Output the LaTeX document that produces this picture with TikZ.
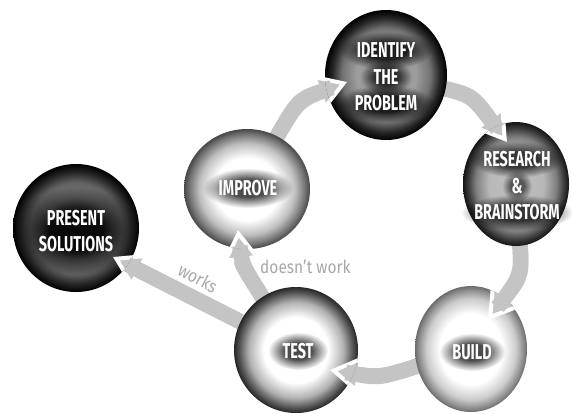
\documentclass[tikz,border=0pt]{standalone}
\usepackage{fontspec}
\usetikzlibrary{arrows.meta,shapes.geometric,fadings}

\newfontfamily\ballfont[FakeStretch=0.67]{Fira Sans}
\newfontfamily\notefont[FakeStretch=0.86]{Fira Sans}

\definecolor{flowgray}{gray}{0.77}
\definecolor{notegray}{gray}{0.66}

% sphere shadings: the path fills the middle 50bp square, so 25bp is the rim
\pgfdeclareradialshading{presentball}{\pgfpointorigin}{color(0bp)=(black!62); color(12bp)=(black!52); color(18bp)=(black!62); color(22bp)=(black!86); color(25bp)=(black); color(50bp)=(black)}
\pgfdeclareradialshading{identifyball}{\pgfpointorigin}{color(0bp)=(black!45); color(12bp)=(black!38); color(18bp)=(black!55); color(22bp)=(black!85); color(25bp)=(black); color(50bp)=(black)}
\pgfdeclareradialshading{researchball}{\pgfpointorigin}{color(0bp)=(black!25); color(13bp)=(black!28); color(19bp)=(black!50); color(23bp)=(black!80); color(25bp)=(black!92); color(50bp)=(black!92)}
\pgfdeclareradialshading{testball}{\pgfpointorigin}{color(0bp)=(white); color(13bp)=(white); color(19bp)=(black!30); color(23bp)=(black!68); color(25bp)=(black!85); color(50bp)=(black!85)}
\pgfdeclareradialshading{improveball}{\pgfpointorigin}{color(0bp)=(white); color(13bp)=(white); color(19bp)=(black!25); color(23bp)=(black!55); color(25bp)=(black!72); color(50bp)=(black!72)}
\pgfdeclareradialshading{buildball}{\pgfpointorigin}{color(0bp)=(white); color(14bp)=(white); color(20bp)=(black!20); color(23.5bp)=(black!45); color(25bp)=(black!58); color(50bp)=(black!58)}

% soft dark glow behind the white lettering
\pgfdeclareradialshading{halofadeshade}{\pgfpointorigin}{color(0bp)=(transparent!0); color(11bp)=(transparent!0); color(25bp)=(transparent!100); color(50bp)=(transparent!100)}
\pgfdeclarefading{halofade}{\pgfuseshading{halofadeshade}}

\pgfdeclarelayer{arrowlayer}
\pgfdeclarelayer{headlayer}
\pgfdeclarelayer{textlayer}
\pgfsetlayers{arrowlayer,main,headlayer,textlayer}

\tikzset{
  ball/.style={ellipse, inner sep=0pt, shade},
  balltext/.style={text=white, align=center, inner sep=0pt,
    font=\ballfont\bfseries\fontsize{21.5}{26.5}\selectfont},
  halo/.style={fill=black, path fading=halofade},
  flow/.style={draw=flowgray, line width=15.5pt, shorten <=-8pt,
    -{Triangle[width=38pt, length=31pt, line width=4pt, color=white, fill=flowgray]}},
  flowfill/.style={draw=flowgray, line width=15.5pt, shorten <=-8pt, shorten >=16pt},
  note/.style={text=notegray, inner sep=0pt, font=\notefont\fontsize{18}{20}\selectfont},
}

% #1: connector path, #2: outline of the ball the head cuts into
\newcommand\flowarrow[2]{%
  \begin{pgfonlayer}{arrowlayer}
    \draw[flow] #1; \draw[flowfill] #1;
  \end{pgfonlayer}
  \begin{pgfonlayer}{headlayer}
    \begin{scope}
      \clip #2;
      \draw[flow] #1; \draw[flowfill] #1;
    \end{scope}
  \end{pgfonlayer}}

\begin{document}
\begin{tikzpicture}[x=1pt, y=-1pt]
  \begin{pgfonlayer}{arrowlayer}
    \fill[white] (0,0) rectangle (572,413);
  \end{pgfonlayer}
  \useasboundingbox (0,0) rectangle (572,413);

  % balls
  \node[ball, shading=presentball,  minimum width=126pt, minimum height=128pt] (present)  at (76,228)  {};
  \node[ball, shading=improveball,  minimum width=126pt, minimum height=120pt] (improve)  at (247,189) {};
  \node[ball, shading=identifyball, minimum width=122pt, minimum height=130pt] (identify) at (386,75)  {};
  \node[ball, shading=researchball, minimum width=106pt, minimum height=124pt] (research) at (516,184) {};
  \node[ball, shading=buildball,    minimum width=112pt, minimum height=126pt] (build)    at (471,349) {};
  \node[ball, shading=testball,     minimum width=124pt, minimum height=126pt] (test)     at (296,350) {};

  % labels
  \begin{pgfonlayer}{textlayer}
    \node[balltext] (present-t)  at (76,231)  {PRESENT\\SOLUTIONS};
    \node[balltext] (improve-t)  at (248,188) {IMPROVE};
    \node[balltext] (identify-t) at (386,77)  {IDENTIFY\\THE\\PROBLEM};
    \node[balltext] (research-t) at (517,186) {RESEARCH\\\&\\BRAINSTORM};
    \node[balltext] (build-t)    at (472,352) {BUILD};
    \node[balltext] (test-t)     at (298,351) {TEST};
    \node[note, anchor=base west] (nowork) at (260,273) {doesn’t work};
    \node[note, rotate=-28] (works) at (198,278) {works};
  \end{pgfonlayer}

  % glows behind the lettering
  \fill[halo, fill opacity=.9]  (present-t.center)  ellipse [x radius=62pt, y radius=44pt];
  \fill[halo, fill opacity=.8]  ([yshift=26.5pt]identify-t.center)  ellipse [x radius=46pt, y radius=19pt];
  \fill[halo, fill opacity=.7]  (identify-t.center) ellipse [x radius=26pt, y radius=18pt];
  \fill[halo, fill opacity=.8]  ([yshift=-26.5pt]identify-t.center) ellipse [x radius=48pt, y radius=19pt];
  \fill[halo, fill opacity=.7]  ([yshift=26.5pt]research-t.center)  ellipse [x radius=46pt, y radius=18pt];
  \fill[halo, fill opacity=.55] (research-t.center) ellipse [x radius=15pt, y radius=16pt];
  \fill[halo, fill opacity=.7]  ([yshift=-26.5pt]research-t.center) ellipse [x radius=56pt, y radius=18pt];
  \fill[halo, fill opacity=.7]  (improve-t.center)  ellipse [x radius=45pt, y radius=20pt];
  \fill[halo, fill opacity=.7]  (build-t.center)    ellipse [x radius=33pt, y radius=19pt];
  \fill[halo, fill opacity=.7]  (test-t.center)     ellipse [x radius=30pt, y radius=19pt];

  % arrow tips end inside the target balls
  \coordinate (identify-in) at (347,82);
  \coordinate (research-in) at (507,142);
  \coordinate (build-in)    at (488,320);
  \coordinate (test-in)     at (330,370);
  \coordinate (improve-in)  at (238,230);
  \coordinate (present-in)  at (113,257);

  \flowarrow{(improve) .. controls (298,100) .. (identify-in)}
            {(identify.center) ellipse [x radius=61pt, y radius=65pt]}
  \flowarrow{(identify) .. controls (472,95) .. (research-in)}
            {(research.center) ellipse [x radius=53pt, y radius=62pt]}
  \flowarrow{(research) .. controls (522,275) .. (build-in)}
            {(build.center) ellipse [x radius=56pt, y radius=63pt]}
  \flowarrow{(build) .. controls (380,378) .. (test-in)}
            {(test.center) ellipse [x radius=62pt, y radius=63pt]}
  \flowarrow{(test) .. controls (242,265) .. (improve-in)}
            {(improve.center) ellipse [x radius=63pt, y radius=60pt]}
  \flowarrow{(test) -- (present-in)}
            {(present.center) ellipse [x radius=63pt, y radius=64pt]}
\end{tikzpicture}
\end{document}
